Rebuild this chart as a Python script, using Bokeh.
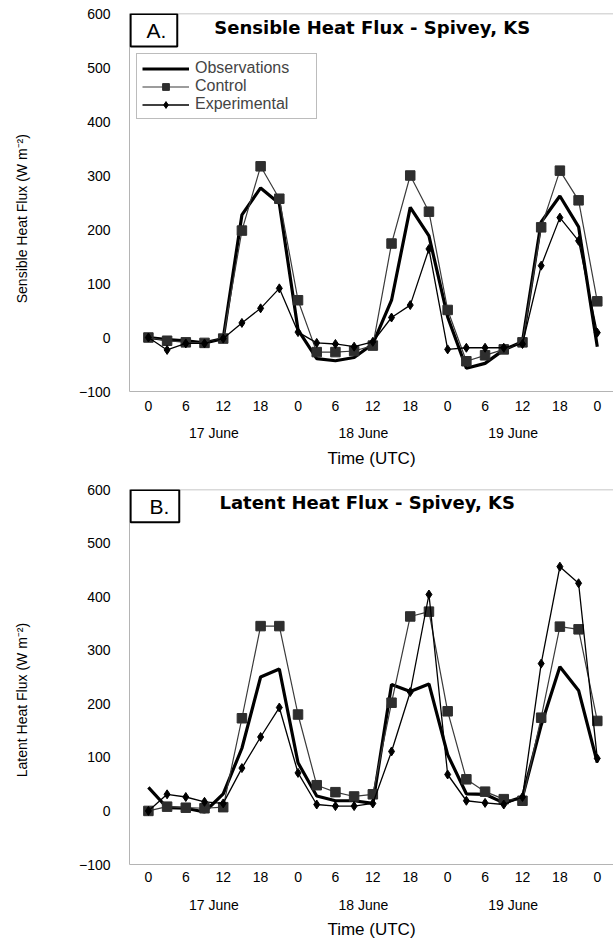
from bokeh.plotting import figure
from bokeh.models import (Range1d, FixedTicker, LinearAxis, Label, BoxAnnotation,
                          Span, Legend, LegendItem)
from bokeh.layouts import column
from bokeh.embed import file_html
from bokeh.resources import INLINE

# ---------------- data ----------------
hours = [0, 3, 6, 9, 12, 15, 18, 21, 24, 27, 30, 33, 36, 39, 42, 45, 48,
         51, 54, 57, 60, 63, 66, 69, 72]

sens_obs = [0, -4, -6, -10, -2, 227, 277, 248, 14, -39, -43, -37, -12, 69, 241,
            188, 38, -57, -48, -23, -8, 214, 262, 205, -17]
sens_ctl = [0, -6, -9, -10, -2, 198, 317, 257, 69, -27, -27, -25, -15, 174, 300,
            233, 51, -44, -33, -22, -9, 204, 309, 254, 67]
sens_exp = [0, -23, -11, -11, -2, 27, 54, 91, 10, -10, -12, -17, -8, 37, 60,
            164, -22, -19, -19, -19, -12, 133, 222, 179, 9]

lat_obs = [44, 6, 5, -2, 32, 117, 250, 265, 90, 28, 19, 19, 14, 236, 223,
           237, 105, 32, 31, 15, 26, 160, 269, 225, 90]
lat_ctl = [0, 8, 6, 5, 7, 173, 345, 345, 180, 48, 35, 27, 31, 202, 363,
           372, 186, 59, 36, 22, 19, 174, 344, 339, 168]
lat_exp = [0, 31, 26, 17, 14, 80, 138, 193, 71, 12, 9, 9, 14, 111, 222,
           404, 68, 19, 15, 12, 26, 275, 456, 425, 98]

hour_ticks = [0, 6, 12, 18, 24, 30, 36, 42, 48, 54, 60, 66, 72]
hour_labels = ["0", "6", "12", "18", "0", "6", "12", "18", "0", "6", "12", "18", "0"]
day_ticks = [10.5, 34.5, 58.5]
day_labels = ["17 June", "18 June", "19 June"]
y_ticks = [-100, 0, 100, 200, 300, 400, 500, 600]

FONT = "Liberation Sans"
GRAY = "#b4b4b4"


def no_ticks(ax):
    ax.major_tick_line_color = None
    ax.minor_tick_line_color = None
    ax.major_tick_out = 0
    ax.major_tick_in = 0
    ax.minor_tick_out = 0
    ax.minor_tick_in = 0


def panel(obs, ctl, exp, letter, title, ylabel, height, top, bottom, left,
          box_right, letter_x, title_x, s1, s2, s3, ylab_pos, legend=False):
    p = figure(width=613, height=height, output_backend="svg", toolbar_location=None,
               x_range=Range1d(-3.03, 74.6), y_range=Range1d(-100, 600),
               min_border_left=left, min_border_right=0, min_border_top=top,
               min_border_bottom=bottom, x_axis_location=None, y_axis_location=None)
    p.grid.visible = False
    p.outline_line_color = None
    p.background_fill_color = "white"

    # y axis
    ya = LinearAxis(ticker=FixedTicker(ticks=y_ticks))
    ya.axis_line_color = GRAY
    no_ticks(ya)
    ya.major_label_standoff = 19
    ya.major_label_text_font = FONT
    ya.major_label_text_font_size = "14px"
    ya.major_label_text_color = "black"
    p.add_layout(ya, "left")

    # y axis title, placed off-centre along the axis as in the original
    yt = LinearAxis(ticker=FixedTicker(ticks=[ylab_pos]),
                    major_label_overrides={ylab_pos: ylabel},
                    major_label_orientation="vertical")
    yt.axis_line_color = None
    no_ticks(yt)
    yt.major_label_standoff = 45
    yt.major_label_text_font = FONT
    yt.major_label_text_font_size = "14px"
    yt.major_label_text_color = "black"
    p.add_layout(yt, "left")

    # x axis: hours
    xa = LinearAxis(ticker=FixedTicker(ticks=hour_ticks),
                    major_label_overrides={t: l for t, l in zip(hour_ticks, hour_labels)})
    xa.axis_line_color = GRAY
    no_ticks(xa)
    xa.major_label_standoff = s1
    xa.major_label_text_font = FONT
    xa.major_label_text_font_size = "14px"
    xa.major_label_text_color = "black"
    p.add_layout(xa, "below")

    # x axis: days
    da = LinearAxis(ticker=FixedTicker(ticks=day_ticks),
                    major_label_overrides={t: l for t, l in zip(day_ticks, day_labels)},
                    axis_label="Time (UTC)")
    da.axis_line_color = None
    no_ticks(da)
    da.major_label_standoff = s2
    da.major_label_text_font = FONT
    da.major_label_text_font_size = "14px"
    da.major_label_text_color = "black"
    da.axis_label_text_font = FONT
    da.axis_label_text_font_size = "17px"
    da.axis_label_text_font_style = "normal"
    da.axis_label_text_color = "black"
    da.axis_label_standoff = s3
    p.add_layout(da, "below")

    p.add_layout(Span(location=600, dimension="width", line_color=GRAY, line_width=1.5))

    r_obs = p.line(hours, obs, line_color="black", line_width=3.2)
    r_ctl_l = p.line(hours, ctl, line_color="#3a3a3a", line_width=1.2)
    r_ctl_m = p.scatter(hours, ctl, marker="square", size=9.5, fill_color="#2e2e2e",
                        line_color="#2e2e2e")
    r_exp_l = p.line(hours, exp, line_color="black", line_width=1.3)
    r_exp_m = p.scatter(hours, exp, marker="diamond", size=9, fill_color="black",
                        line_color="black")

    # letter box
    p.add_layout(BoxAnnotation(left=-2.85, right=box_right, top=599, bottom=539,
                               fill_color=None, fill_alpha=0, line_color="black",
                               line_alpha=1, line_width=2))
    p.add_layout(Label(x=letter_x, y=569, text=letter, text_align="center",
                       text_baseline="middle", text_font=FONT, text_font_size="21px",
                       text_color="black"))
    p.add_layout(Label(x=title_x, y=575, text=title, text_align="center",
                       text_baseline="middle", text_font="DejaVu Sans",
                       text_font_size="18px", text_font_style="bold",
                       text_color="black"))

    if legend:
        lg = Legend(items=[LegendItem(label="Observations", renderers=[r_obs]),
                           LegendItem(label="Control", renderers=[r_ctl_l, r_ctl_m]),
                           LegendItem(label="Experimental", renderers=[r_exp_l, r_exp_m])],
                    location=(7, 272))
        lg.border_line_color = "#7a7a7a"
        lg.border_line_width = 1
        lg.padding = 5
        lg.spacing = 0
        lg.margin = 0
        lg.label_text_font = FONT
        lg.label_text_font_size = "16px"
        lg.label_height = 17
        lg.glyph_height = 17
        lg.glyph_width = 47
        lg.label_standoff = 6
        lg.label_width = 116
        lg.background_fill_alpha = 1
        p.add_layout(lg, "center")
    return p


p1 = panel(sens_obs, sens_ctl, sens_exp, "A.", "Sensible Heat Flux - Spivey, KS",
           "Sensible Heat Flux (W m\u207b\u00b2)", 470, 13, 79, 127, 4.63, 1.3, 35.9,
           9, 11, 5, 220, legend=True)
p2 = panel(lat_obs, lat_ctl, lat_exp, "B.", "Latent Heat Flux - Spivey, KS",
           "Latent Heat Flux (W m\u207b\u00b2)", 471, 19, 74, 129, 4.95, 1.76, 35.1,
           7, 12, 4, 207)

layout = column(p1, p2, spacing=0)
open("out.html", "w").write(file_html(layout, INLINE))
